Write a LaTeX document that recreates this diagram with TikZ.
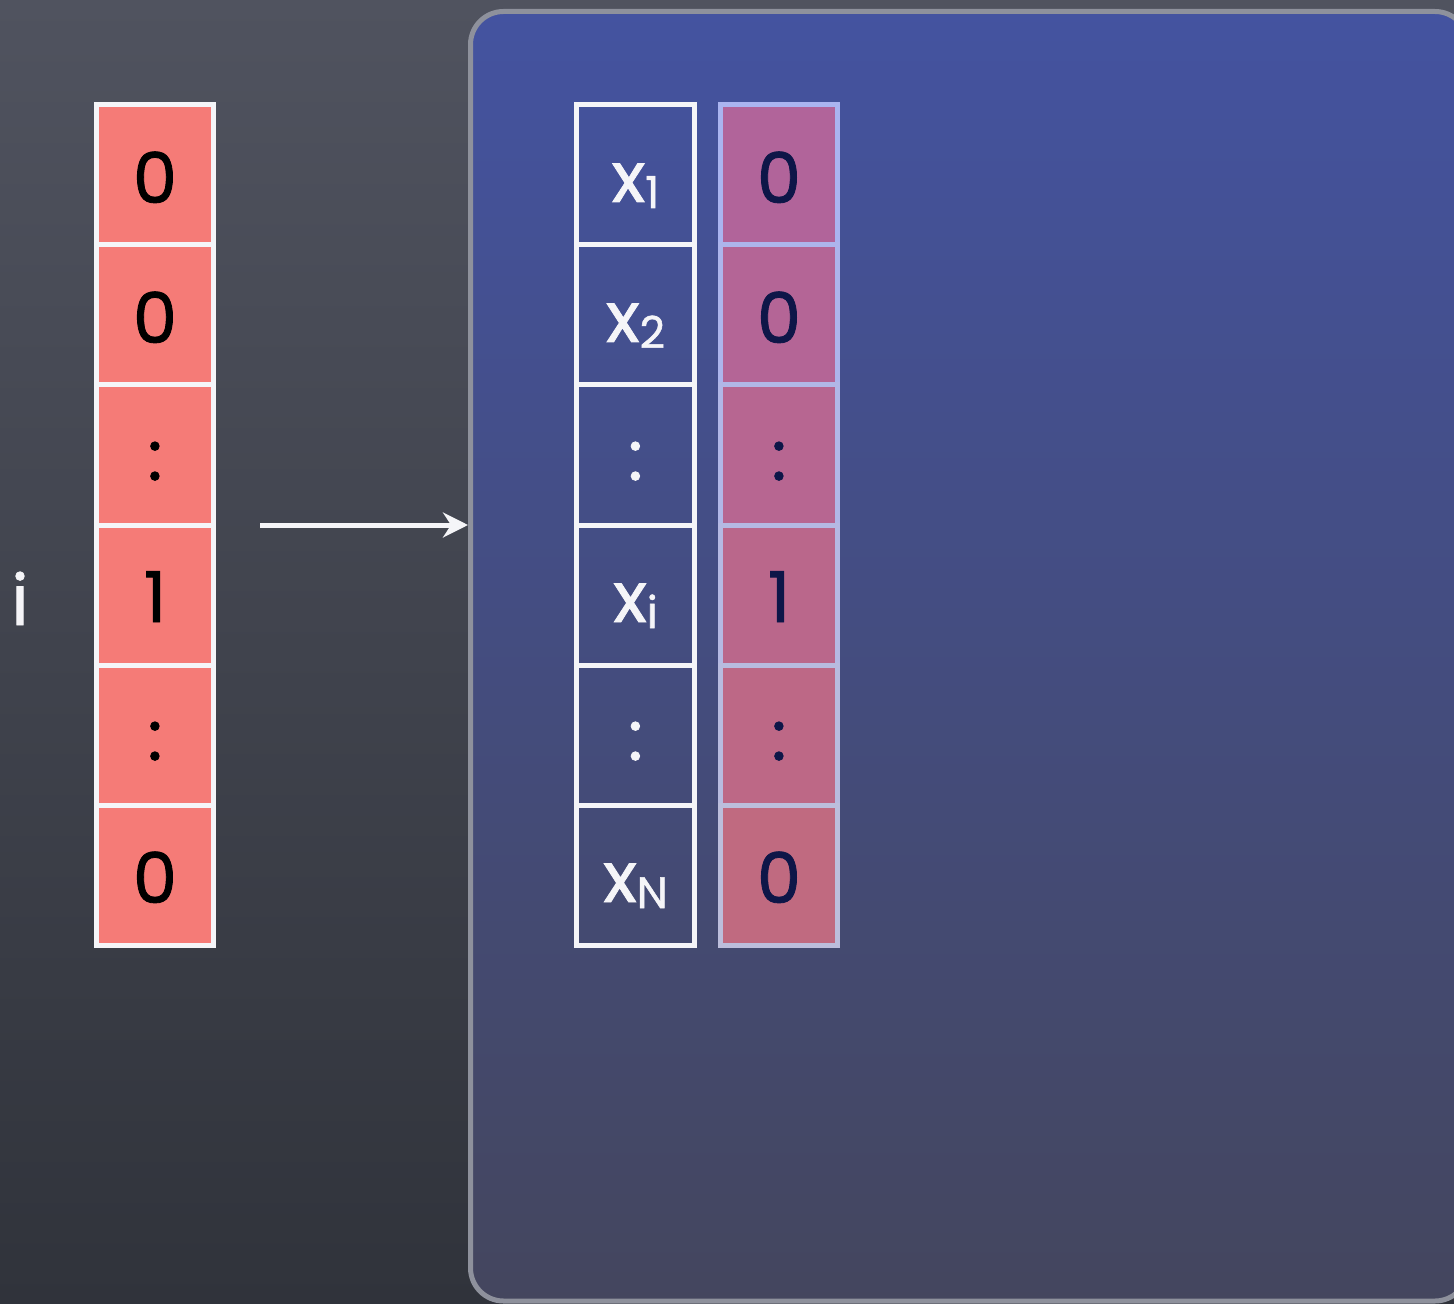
\documentclass[tikz,border=0pt]{standalone}
\usepackage{fontspec}
\setmainfont{Poppins}[UprightFeatures={FakeBold=1.2}]
\usetikzlibrary{arrows.meta}
\definecolor{bgtop}{HTML}{50535F}
\definecolor{bgbot}{HTML}{30333B}
\definecolor{pantop}{HTML}{4453A0}
\definecolor{panmid}{HTML}{4B5390}
\definecolor{panbot}{HTML}{44465E}
\definecolor{panline}{HTML}{8E919C}
\definecolor{chalk}{HTML}{F5F5F8}
\definecolor{salmon}{HTML}{F57B77}
\definecolor{navy}{HTML}{0E1648}
\definecolor{pf1}{HTML}{B1649A}
\definecolor{pf2}{HTML}{B46596}
\definecolor{pf3}{HTML}{B76691}
\definecolor{pf4}{HTML}{BA678B}
\definecolor{pf5}{HTML}{BD6886}
\definecolor{pf6}{HTML}{C06A80}
\definecolor{pb1}{HTML}{AAB4F0}
\definecolor{pb2}{HTML}{ADB5EC}
\definecolor{pb3}{HTML}{B1B7E7}
\definecolor{pb4}{HTML}{B5B9E3}
\definecolor{pb5}{HTML}{B8BBDF}
\definecolor{pb6}{HTML}{BCBEDC}
\newcommand{\sbs}[1]{\raisebox{-3pt}{\fontsize{22}{24}\selectfont #1}}
\tikzset{
  cell/.style={minimum height=70pt, inner sep=0pt, line width=2.5pt},
  redcell/.style={cell, minimum width=58.5pt, draw=chalk, fill=salmon},
  xcell/.style={cell, minimum width=59pt, draw=chalk},
  pcell/.style={cell, minimum width=58.5pt},
  lbl/.style={anchor=base, inner sep=0pt, font=\fontsize{35}{40}\selectfont},
  arr/.style={draw=chalk, line width=2.5pt, -{Stealth[length=12.5pt,width=12.5pt,inset=4pt]}},
}
\begin{document}
\begin{tikzpicture}[x=0.5pt,y=-0.5pt]
\useasboundingbox (0,0) rectangle (1454,1304);
\shade[top color=bgtop, bottom color=bgbot] (0,0) rectangle (1454,1304);
\node[draw=panline, line width=2.5pt, rounded corners=16.5pt,
      top color=pantop, middle color=panmid, bottom color=panbot,
      minimum width=498.75pt, minimum height=644.75pt, inner sep=0pt]
      (panel) at (969.25,656.25) {};
% left column
\foreach \r/\y in {1/175,2/315,3/455,4/595,5/735,6/875}{
  \node[redcell] (r\r) at (155,\y) {};
}
\node[lbl, text=black] (rl1) at ([yshift=-14pt]r1.center) {0};
\node[lbl, text=black] (rl2) at ([yshift=-14pt]r2.center) {0};
\node[lbl, text=black] (rl3) at ([yshift=-12.5pt]r3.center) {:};
\node[lbl, text=black] (rl4) at ([yshift=-13.5pt]r4.center) {1};
\node[lbl, text=black] (rl5) at ([yshift=-12.5pt]r5.center) {:};
\node[lbl, text=black] (rl6) at ([yshift=-14pt]r6.center) {0};
\node[lbl, text=chalk] (ilabel) at (20,625) {i};
% middle column
\foreach \r/\y in {1/175,2/315,3/455,4/595,5/735,6/875}{
  \node[xcell] (x\r) at (635.5,\y) {};
}
\node[lbl, text=chalk] (xl1) at ([yshift=-13.5pt]x1.center) {x\sbs{1}};
\node[lbl, text=chalk] (xl2) at ([yshift=-13.5pt]x2.center) {x\sbs{2}};
\node[lbl, text=chalk] (xl3) at ([yshift=-12.5pt]x3.center) {:};
\node[lbl, text=chalk] (xl4) at ([yshift=-13.5pt]x4.center) {x\sbs{i}};
\node[lbl, text=chalk] (xl5) at ([yshift=-12.5pt]x5.center) {:};
\node[lbl, text=chalk] (xl6) at ([yshift=-13.5pt]x6.center) {x\sbs{N}};
% right column
\foreach \r/\y in {1/175,2/315,3/455,4/595,5/735,6/875}{
  \node[pcell, draw=pb\r, fill=pf\r] (p\r) at (779,\y) {};
}
\node[lbl, text=navy] (pl1) at ([yshift=-14pt]p1.center) {0};
\node[lbl, text=navy] (pl2) at ([yshift=-14pt]p2.center) {0};
\node[lbl, text=navy] (pl3) at ([yshift=-12.5pt]p3.center) {:};
\node[lbl, text=navy] (pl4) at ([yshift=-13.5pt]p4.center) {1};
\node[lbl, text=navy] (pl5) at ([yshift=-12.5pt]p5.center) {:};
\node[lbl, text=navy] (pl6) at ([yshift=-14pt]p6.center) {0};
% arrow
\coordinate (astart) at (260,525);
\coordinate (aend) at (panel.west |- astart);
\draw[arr] (astart) -- (aend);
\end{tikzpicture}
\end{document}
